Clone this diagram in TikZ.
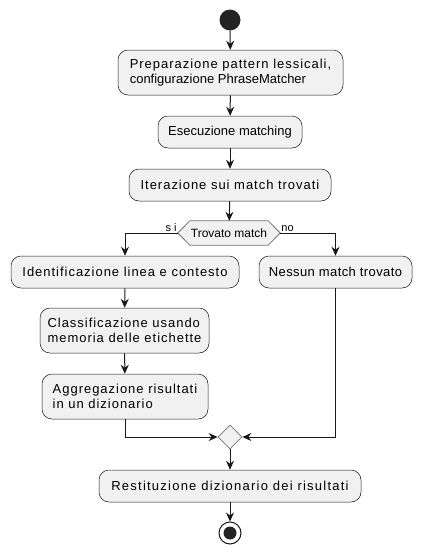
\documentclass[tikz,border=0pt]{standalone}
\usepackage{fontspec}
\setmainfont{Liberation Sans}
\newfontfamily\spc[LetterSpace=7.5]{Liberation Sans}
\newfontfamily\spcw[LetterSpace=9.5]{Liberation Sans}
\newfontfamily\spcs[LetterSpace=3]{Liberation Sans}
\usetikzlibrary{arrows.meta,shapes.geometric,calc}
\definecolor{ln}{HTML}{181818}
\definecolor{bx}{HTML}{F1F1F1}
\tikzset{
  act/.style={draw=ln,fill=bx,line width=0.5pt,rounded corners=10pt,inner xsep=3pt,inner ysep=2pt,align=left,font=\fontsize{13}{15}\selectfont},
  flow/.style={draw=ln,line width=1pt,-{Stealth[length=9pt,width=8pt,inset=3pt]}},
  lbl/.style={font=\fontsize{11}{13}\selectfont,inner sep=1pt}
}
\begin{document}
\begin{tikzpicture}[x=1pt,y=-1pt]
\useasboundingbox (0,0) rectangle (423,555);
\node[circle,fill=ln!95!white,minimum size=21pt,inner sep=0] (start) at (230,20) {};
\node[act,minimum width=225pt,minimum height=45pt] (b1) at (230.5,72.5) {{\spc Preparazione pattern lessicali,}\\configurazione PhraseMatcher};
\node[act,minimum width=144pt,minimum height=32pt] (b2) at (230,132) {Esecuzione matching};
\node[act,minimum width=202pt,minimum height=32pt] (b3) at (230,185) {\spc Iterazione sui match trovati};
\node[minimum width=102pt,minimum height=24pt,inner sep=0,font=\fontsize{12}{14}\selectfont] (dec) at (229,233) {Trovato match};
\draw[draw=ln!60!white,fill=bx,line width=0.8pt] (dec.west) -- ([xshift=12pt]dec.north west) -- ([xshift=-12pt]dec.north east) -- (dec.east) -- ([xshift=-12pt]dec.south east) -- ([xshift=12pt]dec.south west) -- cycle;
\node[minimum width=102pt,minimum height=24pt,inner sep=0,font=\fontsize{12}{14}\selectfont] at (dec) {Trovato match};
\node[act,minimum width=228pt,minimum height=32pt] (b4) at (125,272) {\spc Identificazione linea e contesto};
\node[act,minimum width=153pt,minimum height=32pt] (b5) at (335.5,272) {\spcs Nessun match trovato};
\node[act,minimum width=169pt,minimum height=45pt] (b6) at (124.5,330.5) {{\spc Classificazione usando}\\{\spc memoria delle etichette}};
\node[act,minimum width=166pt,minimum height=45pt] (b7) at (125,396.5) {{\spc Aggregazione risultati}\\{\spc in un dizionario}};
\node[diamond,draw=ln!60!white,fill=bx,line width=0.8pt,minimum width=24pt,minimum height=24pt,inner sep=0] (merge) at (230,437) {};
\node[act,minimum width=262pt,minimum height=32pt] (b8) at (230,486) {\spcw Restituzione dizionario dei risultati};
\node[circle,draw=ln,fill=white,line width=1pt,minimum size=22pt,inner sep=0] (stop) at (230,533) {};
\node[circle,fill=ln!95!white,minimum size=13pt,inner sep=0] (stopin) at (stop) {};
\draw[flow] (start) -- (b1);
\draw[flow] (b1) -- (b2);
\draw[flow] (b2) -- (b3);
\draw[flow] (b3) -- (dec);
\draw[flow] (dec.west) -| (b4.north);
\draw[flow] (dec.east) -| (b5.north);
\node[lbl,anchor=south east] (lsi) at (dec.west) {s i};
\node[lbl,anchor=south west] (lno) at (dec.east) {no};
\draw[flow] (b4) -- (b6);
\draw[flow] (b6) -- (b7);
\draw[flow] (b7.south) |- (merge.west);
\draw[flow] (b5.south) |- (merge.east);
\draw[flow] (merge) -- (b8);
\draw[flow] (b8) -- (stop);
\end{tikzpicture}
\end{document}
